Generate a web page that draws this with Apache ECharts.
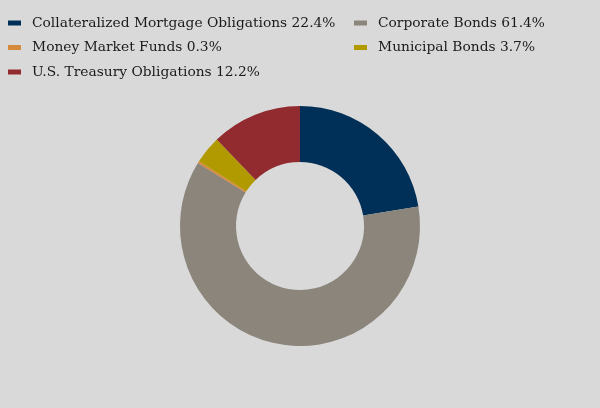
<!DOCTYPE html>
<html>
<head>
<meta charset="utf-8">
<script src="https://cdn.jsdelivr.net/npm/echarts@6/dist/echarts.min.js"></script>
<style>
	html, body { margin: 0; padding: 0; background: #d9d9d9; }
	#chart { width: 600px; height: 408px; }
</style>
</head>
<body>
<div id="chart"></div>
<script>

// holdings by sector, percent of total
var categories = [
	'Collateralized Mortgage Obligations',
	'Corporate Bonds',
	'Money Market Funds',
	'Municipal Bonds',
	'U.S. Treasury Obligations'
];
var shares = [22.4, 61.4, 0.3, 3.7, 12.2];
var colors = ['#003057', '#8b857b', '#d48a3a', '#b09a00', '#922b2f'];

// legend is laid out in two columns
var leftColumn = [categories[0], categories[2], categories[4]];
var rightColumn = [categories[1], categories[3]];

var pieData = categories.map(function(name, i){
	return { name: name, value: shares[i], itemStyle: { color: colors[i] } };
});

function legendLabel(name){
	var idx = categories.indexOf(name);
	return name + ' ' + shares[idx].toFixed(1) + '%';
}

var legendBase = {
	orient: 'vertical',
	top: 15,
	padding: 0,
	itemWidth: 13,
	itemHeight: 5,
	itemGap: 8.5,
	icon: 'rect',
	formatter: legendLabel,
	textStyle: {
		fontFamily: 'DejaVu Serif',
		fontSize: 13.8,
		color: '#1a1a1a',
		lineHeight: 16,
		padding: [0, 0, 0, 6]
	}
};

var chart = echarts.init(document.getElementById('chart'));

chart.setOption({
	backgroundColor: '#d9d9d9',
	animation: false,
	legend: [
		Object.assign({}, legendBase, { left: 8, data: leftColumn }),
		Object.assign({}, legendBase, { left: 354, data: rightColumn })
	],
	series: [{
		type: 'pie',
		center: [300, 226],
		radius: [64, 120],
		startAngle: 90,
		clockwise: true,
		label: { show: false },
		labelLine: { show: false },
		emphasis: { disabled: true },
		data: pieData
	}]
});

</script>
</body>
</html>
